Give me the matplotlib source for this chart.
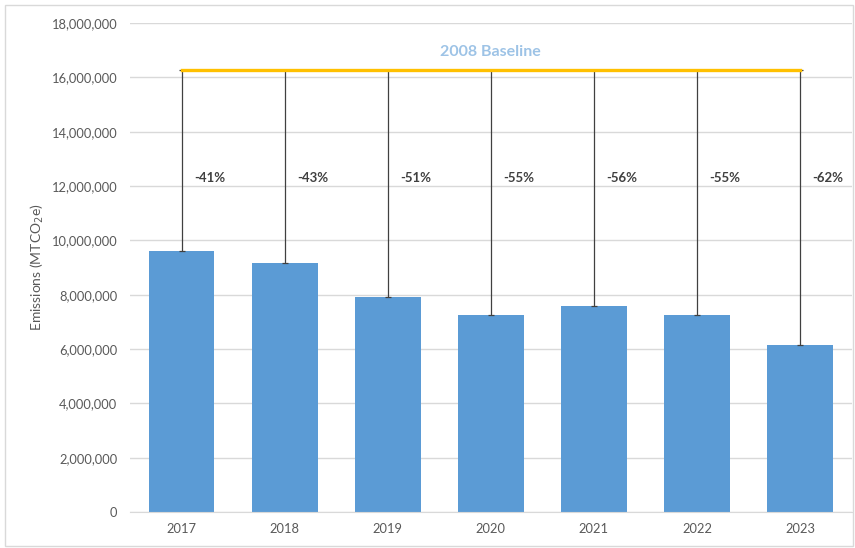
import matplotlib.pyplot as plt
from matplotlib.ticker import FuncFormatter
from matplotlib.patches import Rectangle

years = ['2017', '2018', '2019', '2020', '2021', '2022', '2023']
emissions = [9610000, 9160000, 7910000, 7250000, 7580000, 7250000, 6150000]
pct_labels = ['-41%', '-43%', '-51%', '-55%', '-56%', '-55%', '-62%']
baseline = 16270000
baseline_label = '2008 Baseline'

plt.rcParams['font.family'] = ['Lato', 'DejaVu Sans']

fig = plt.figure(figsize=(8.55, 5.48), dpi=100)
ax = fig.add_axes([0.152, 0.0657, 0.844, 0.8923])

x = list(range(len(years)))
ax.bar(x, emissions, width=0.64, color='#5B9BD5', zorder=2)

# drop lines from baseline down to each bar
upper = [baseline - v for v in emissions]
ax.errorbar(x, emissions, yerr=[[0] * len(x), upper], fmt='none',
            ecolor='#404040', elinewidth=0.9, capsize=2.5, capthick=0.9, zorder=3)
ax.plot([x[0], x[-1]], [baseline, baseline], color='#FFC000', lw=2.4, zorder=4)

for xi, lab in zip(x, pct_labels):
    ax.text(xi + 0.27, 12300000, lab, ha='center', va='center',
            fontsize=9.5, fontweight='bold', color='#404040')

ax.text(3, 16950000, baseline_label, ha='center', va='center',
        fontsize=11.5, fontweight='bold', color='#9DC3E6')

ax.set_xlim(-0.5, len(years) - 0.5)
ax.set_ylim(0, 18000000)
ax.set_yticks(range(0, 18000001, 2000000))
ax.yaxis.set_major_formatter(FuncFormatter(lambda v, p: f'{int(v):,}'))
ax.set_xticks(x)
ax.set_xticklabels(years)
ax.tick_params(axis='both', length=0, labelsize=9.3, colors='#595959')
ax.tick_params(axis='x', pad=8)
ax.tick_params(axis='y', pad=9)
ax.grid(axis='y', color='#D9D9D9', lw=1, zorder=0)
ax.set_axisbelow(True)
for s in ['top', 'right', 'left']:
    ax.spines[s].set_visible(False)
ax.spines['bottom'].set_color('#D9D9D9')

ax.set_ylabel('Emissions (MTCO$_2$e)', fontsize=10, color='#595959')
ax.yaxis.set_label_coords(-0.117, 0.5)

fig.patches.append(Rectangle((0.006, 0.004), 0.992, 0.986, transform=fig.transFigure,
                             fill=False, edgecolor='#D9D9D9', lw=1))

fig.savefig('out.png', dpi=100)
